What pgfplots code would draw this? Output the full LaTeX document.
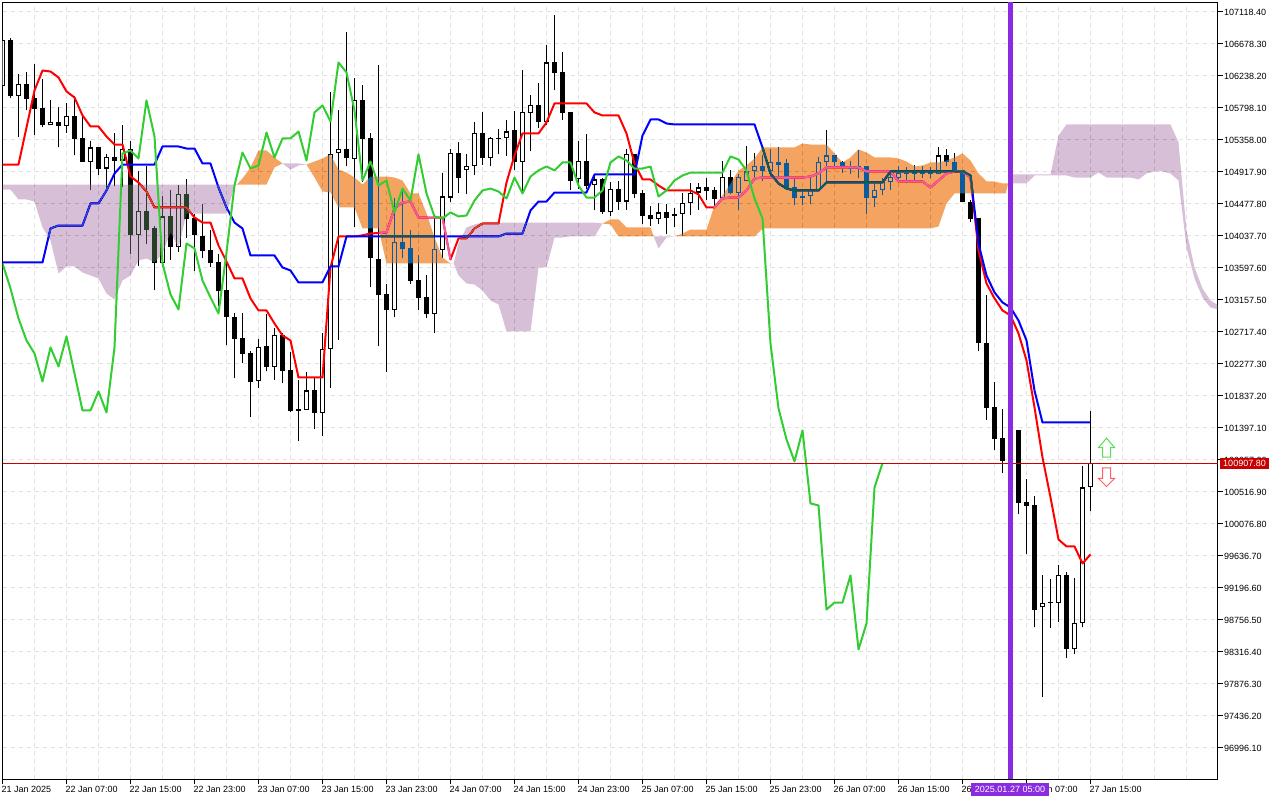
\documentclass[border=0pt]{standalone}
\usepackage{fontspec}
\setmainfont{Liberation Sans}
\usepackage{pgfplots}
\usepackage{pgfplotstable}
\pgfplotsset{compat=1.18}
\definecolor{gridc}{HTML}{E2E2E2}
\definecolor{kumoO}{HTML}{0B5B9F}% shown as F4A460 on white under difference blending
\definecolor{kumoT}{HTML}{274027}% shown as D8BFD8 on white under difference blending
\definecolor{chik}{HTML}{32CD32}
\definecolor{vline}{HTML}{8A2BE2}
\definecolor{pricec}{HTML}{C80000}
\definecolor{pinkl}{HTML}{F45B9F}
\definecolor{teall}{HTML}{0B5B60}
\definecolor{arrowg}{HTML}{55DD55}
\definecolor{arrowr}{HTML}{FF6060}
% bar index, open, high, low, close
\pgfplotstableread{
k o h l c
0 106087 106733 106087 106733
1 106733 106747 105923 105950
2 105950 106252 105386 106115
3 106115 106293 105757 105909
4 105923 106390 105413 105771
5 105785 106184 105524 105551
6 105551 105895 105551 105592
7 105592 105799 105248 105537
8 105537 105854 105454 105675
9 105675 105950 105138 105358
10 105372 105661 105042 105055
11 105055 105331 104657 105248
12 105248 105248 104863 104959
13 104959 105152 104657 105111
14 105111 105441 104712 105069
15 105069 105551 104698 105234
16 105234 105331 103777 104038
17 104038 104918 103612 104368
18 104368 104987 103914 104120
19 104134 104175 103282 103653
20 103653 104574 103598 104299
21 104299 104657 103694 103873
22 103873 104726 103804 104602
23 104602 104808 104010 104258
24 104272 104340 103543 104038
25 104024 104464 103722 103818
26 103832 104107 103598 103653
27 103667 103777 103062 103268
28 103282 103791 102526 102910
29 102910 102965 102072 102608
30 102622 102965 102278 102402
31 102416 102443 101535 102016
32 102030 102608 101934 102498
33 102512 102952 102168 102223
34 102223 102759 102044 102663
35 102663 102690 102003 102168
36 102182 102430 101604 101618
37 101645 102044 101205 101618
38 101631 102154 101631 101906
39 101906 102072 101370 101590
40 101590 102690 101274 102471
41 102471 106005 101934 105152
42 105166 105757 102594 105221
43 105234 106843 104987 105097
44 105083 106197 104148 105895
45 105895 106101 104767 105358
46 105372 105454 103323 103722
47 103708 106376 102512 103213
48 103227 103364 102154 103007
49 103007 104547 102910 103942
50 103942 104684 103722 103846
51 103860 104107 103364 103405
52 103419 103763 103007 103172
53 103185 103488 102897 102952
54 102952 104272 102691 103846
55 103832 104904 103735 104574
56 104560 105234 104492 105179
57 105179 105317 104616 104822
58 104945 105152 104602 105000
59 104987 105592 104863 105454
60 105454 105730 105014 105097
61 105097 105386 104987 105372
62 105358 105496 105152 105372
63 105372 105620 105125 105468
64 105482 105744 104932 105055
65 105055 106307 104616 105730
66 105716 105964 105193 105826
67 105826 106129 105510 105592
68 105592 106651 105551 106417
69 106417 107077 106032 106266
70 106280 106568 105620 105716
71 105730 105730 104670 104781
72 104808 105344 104684 105069
73 105069 105427 104684 104712
74 104726 104890 104382 104808
75 104808 104822 104340 104354
76 104354 104767 104299 104684
77 104684 104794 104395 104505
78 104505 105221 104395 105152
79 105152 105152 104547 104602
80 104616 104657 104189 104299
81 104313 104437 104175 104258
82 104258 104478 104189 104354
83 104354 104464 104065 104285
84 104299 104409 104148 104327
85 104327 104629 104024 104478
86 104478 104753 104313 104616
87 104629 104753 104395 104698
88 104698 104822 104519 104643
89 104657 104698 104423 104533
90 104547 105069 104547 104849
91 104849 104945 104602 104616
92 104616 104890 104395 104849
93 104781 105262 104781 104918
94 104918 105179 104781 105000
95 105000 105138 104794 104918
96 104918 105234 104822 105055
97 105055 105248 104808 105014
98 105028 105083 104657 104684
99 104698 104808 104451 104547
100 104574 104657 104451 104547
101 104574 104822 104464 104657
102 104657 105111 104657 105042
103 105042 105482 104767 105138
104 105138 105138 104973 105042
105 105055 105069 104904 104987
106 104959 105069 104890 104987
107 104959 105207 104822 105000
108 105000 105000 104340 104560
109 104560 104794 104423 104670
110 104670 104835 104588 104767
111 104767 104904 104670 104849
112 104835 105000 104794 104904
113 104904 104973 104753 104877
114 104890 105014 104781 104918
115 104918 105000 104835 104877
116 104918 104973 104822 104877
117 104890 105248 104890 105138
118 105138 105234 104987 105055
119 105055 105179 104932 104932
120 104932 104932 104492 104492
121 104505 104519 104230 104258
122 104272 104272 102443 102553
123 102553 103213 101494 101659
124 101673 102016 101081 101233
125 101247 101645 100765 100930
126 100930 101425 100875 101356
127 101356 101356 100201 100353
128 100366 100683 99651 100311
129 100325 100449 98647 98894
130 98922 99363 97684 98990
131 98977 99307 98633 98990
132 98990 99500 98729 99363
133 99363 99404 98221 98344
134 98344 99321 98276 98702
135 98702 100861 98647 100572
136 100572 101618 100243 100907.8
}\candles
\begin{document}
\begin{tikzpicture}
\path[use as bounding box, fill=white] (0pt,0pt) rectangle (1280pt,800pt);
\begin{axis}[
  at={(2.5pt,20.5pt)}, anchor=south west,
  scale only axis, width=1215pt, height=777pt,
  xmin=0, xmax=151.875, ymin=96556.1, ymax=107242.2,
  axis line style={line width=1pt},
  tick style={black, line width=1pt},
  tick align=outside, major tick length=5pt, minor tick length=0pt,
  ytick pos=right, xtick pos=bottom, yticklabel pos=right,
  grid=both,
  major grid style={gridc, line width=1pt, dash pattern=on 4pt off 4pt},
  minor grid style={gridc, line width=1pt, dash pattern=on 4pt off 4pt},
  xtick={0,8,...,136},
  minor xtick={4,12,...,132,140,144,148},
  xticklabels={21 Jan 2025,22 Jan 07:00,22 Jan 15:00,22 Jan 23:00,23 Jan 07:00,23 Jan 15:00,23 Jan 23:00,24 Jan 07:00,24 Jan 15:00,24 Jan 23:00,25 Jan 07:00,25 Jan 15:00,25 Jan 23:00,26 Jan 07:00,26 Jan 15:00,26 Jan 23:00,27 Jan 07:00,27 Jan 15:00},
  ytick={107118.4,106678.3,106238.2,105798.1,105358,104917.9,104477.8,104037.7,103597.6,103157.5,102717.4,102277.3,101837.2,101397.1,100957,100516.9,100076.8,99636.7,99196.6,98756.5,98316.4,97876.3,97436.2,96996.1},
  yticklabels={107118.40,106678.30,106238.20,105798.10,105358.00,104917.90,104477.80,104037.70,103597.60,103157.50,102717.40,102277.30,101837.20,101397.10,100957.00,100516.90,100076.80,99636.70,99196.60,98756.50,98316.40,97876.30,97436.20,96996.10},
  tick label style={font=\fontsize{9pt}{10pt}\selectfont, black},
  yticklabel style={anchor=west, inner sep=0pt, xshift=1.5pt, yshift=-0.7pt},
  xticklabel style={anchor=north west, inner sep=0pt, xshift=-1pt, yshift=-2pt},
  axis background/.style={fill=white},
]
% candle wicks
\addplot[draw=none, mark=none, forget plot,
  error bars/.cd, y dir=plus, y explicit, error mark=none,
  error bar style={black, line width=1pt}]
  table[x=k, y=l, y error plus expr={\thisrow{h}-\thisrow{l}}] {\candles};
% candle bodies
\addplot[draw=none, mark=none, forget plot,
  error bars/.cd, y dir=plus, y explicit, error mark=none,
  error bar style={black, line width=5pt}]
  table[x=k, y expr={min(\thisrow{o},\thisrow{c})}, y error plus expr={max(abs(\thisrow{c}-\thisrow{o}),14)}] {\candles};
% white inside of rising candles
\addplot[draw=none, mark=none, forget plot,
  error bars/.cd, y dir=plus, y explicit, error mark=none,
  error bar style={white, line width=3pt}]
  table[x=k, y expr={\thisrow{o}+14}, y error plus expr={ifthenelse(\thisrow{c}>\thisrow{o},max(\thisrow{c}-\thisrow{o}-28,0),0)}] {\candles};
% Tenkan
\addplot[red, line width=2pt, line join=round] coordinates {
(0,105014)(2,105014)(4,106032)(5,106307)(6,106293)(7,106211)(8,106019)(9,105936)(10,105689)(11,105537)(12,105537)(13,105399)(14,105289)(15,105289)(16,104849)(17,104767)(18,104643)(19,104423)(23,104423)(24,104285)(25,104216)(26,104216)(27,103900)(28,103680)(29,103447)(30,103447)(31,103172)(32,103007)(33,103007)(34,102828)(35,102663)(36,102594)(37,102085)(40,102085)(41,103598)(42,104024)(44,104024)(45,104040)(46,104065)(48,104079)(49,104409)(50,104492)(51,104505)(52,104285)(55,104285)(56,103708)(57,103997)(58,103997)(59,104134)(60,104203)(62,104203)(63,104767)(64,105138)(65,105441)(67,105441)(68,105592)(69,105854)(73,105854)(74,105730)(75,105689)(77,105689)(78,105441)(79,105028)(80,104808)(81,104808)(82,104726)(83,104657)(86,104657)(87,104602)(88,104423)(89,104423)(90,104547)(91,104560)(92,104560)(93,104657)(94,104822)(95,104835)(100,104835)(101,104849)(102,104890)(103,104973)(107,104973)(108,104918)(111,104918)(112,104781)(115,104781)(116,104698)(117,104794)(118,104890)(119,104918)(120,104918)(121,104835)(122,103832)(123,103378)(124,103172)(125,103007)(126,102938)(127,102691)(128,102319)(129,101673)(130,100985)(131,100435)(132,99857)(133,99761)(134,99761)(135,99528)(136,99651)};
% Kijun
\addplot[blue, line width=2pt, line join=round] coordinates {
(0,103667)(5,103667)(6,104134)(7,104175)(10,104175)(11,104478)(12,104478)(13,104657)(14,104890)(15,105014)(19,105014)(20,105262)(22,105262)(23,105234)(24,105234)(25,105028)(26,105028)(27,104698)(28,104423)(29,104216)(30,104134)(31,103763)(34,103763)(35,103598)(36,103557)(37,103392)(40,103392)(41,103612)(42,103612)(43,104024)(62,104024)(63,104065)(65,104065)(66,104382)(67,104505)(68,104505)(69,104629)(73,104629)(74,104877)(79,104877)(80,105413)(81,105633)(82,105633)(83,105578)(84,105565)(94,105565)(95,105248)(96,104890)(97,104753)(98,104684)(99,104657)(102,104657)(103,104767)(110,104767)(111,104918)(120,104918)(121,104863)(122,103928)(123,103488)(124,103254)(125,103117)(126,103048)(127,102869)(128,102594)(129,101906)(130,101466)(136,101466)};
% cloud, in difference blending
\addplot[fill=kumoT, draw=none, blend mode=difference] coordinates {
(0,104739)(29.3,104739)(29,104712)(28,104340)(23,104340)(22,103873)(21,104079)(20,103791)(19,103667)(18,103722)(17,103694)(16,103488)(15,103419)(14,103158)(13,103240)(12,103447)(11,103488)(10,103529)(9,103612)(8,103612)(7,103516)(6,103969)(5,104148)(4,104505)(3,104533)(2,104533)(1,104670)(0,104670)} --cycle;
\addplot[fill=kumoO, draw=none, blend mode=difference] coordinates {
(29.3,104739)(30,104822)(31,104973)(32,105207)(33,105207)(34,105111)(35,105028)(34,104973)(33,104739)} --cycle;
\addplot[fill=kumoT, draw=none, blend mode=difference] coordinates {
(35,105028)(37,105028)(38,105014)(37,105000)(36,104945)} --cycle;
\addplot[fill=kumoO, draw=none, blend mode=difference] coordinates {
(38,105014)(39,105055)(40,105097)(41,105152)(42,104945)(43,104904)(44,104835)(45,104739)(46,104849)(48,104849)(49,104835)(50,104794)(51,104616)(52,104616)(53,104340)(54,104010)(55,103735)(56,103653)(56.4,103653)(48,103653)(47,104134)(45,104134)(44,104423)(42,104423)(41,104629)(40,104643)(39,104835)} --cycle;
\addplot[fill=kumoT, draw=none, blend mode=difference] coordinates {
(56.4,103653)(57,103928)(58,104148)(59,104189)(60,104216)(74,104216)(75,104203)(74,104024)(71,104024)(70,104010)(69,104010)(68,103598)(67,103598)(66,102718)(63,102718)(62,103089)(61,103144)(60,103282)(59,103364)(58,103378)(57,103488)} --cycle;
\addplot[fill=kumoO, draw=none, blend mode=difference] coordinates {
(75,104203)(76,104258)(77,104258)(78,104148)(81,104148)(81.4,104024)(77,104024)(76,104189)} --cycle;
\addplot[fill=kumoT, draw=none, blend mode=difference] coordinates {
(81.4,104024)(84,104024)(83,104010)(82,103860)} --cycle;
\addplot[fill=kumoO, draw=none, blend mode=difference] coordinates {
(84,104024)(85,104065)(86,104120)(88,104120)(89,104451)(90,104588)(91,104753)(92,104932)(93,105000)(94,105097)(95,105248)(99,105248)(100,105303)(101,105289)(103,105289)(104,105166)(105,105042)(106,105111)(107,105221)(108,105179)(109,105111)(111,105111)(112,105097)(113,105055)(114,104987)(115,105000)(116,105042)(117,105042)(118,105069)(119,105111)(120,105166)(121,105069)(122,104890)(123,104781)(124,104781)(125,104753)(125.7,104753)(125.4,104616)(119,104616)(118,104478)(117,104162)(116,104134)(95,104134)(94,104024)(85,104024)} --cycle;
\addplot[fill=kumoT, draw=none, blend mode=difference] coordinates {
(125.9,104753)(126,104877)(131,104877)(132,105413)(133,105565)(146,105565)(147,105317)(148,104107)(149,103598)(150,103309)(151,103144)(152,103075)(152,103020)(151,103048)(150,103185)(149,103447)(148,103873)(147,104794)(146,104890)(145,104918)(144,104918)(143,104890)(142,104808)(141,104835)(138,104835)(137,104904)(136,104835)(134,104835)(133,104863)(129,104863)(128,104753)(126,104753)} --cycle;
% the parts of Tenkan and Kijun that run inside the orange cloud
\addplot[pinkl, line width=2pt, line join=round] coordinates {
(47.14,104079)(48,104079)(49,104409)(50,104492)(51,104505)(52,104285)(55,104285)(56,103708)};
\addplot[pinkl, line width=2pt, line join=round] coordinates {
(88.92,104423)(89,104423)(90,104547)(91,104560)(92,104560)(93,104657)(94,104822)(95,104835)(100,104835)(101,104849)(102,104890)(103,104973)(107,104973)(108,104918)(111,104918)(112,104781)(115,104781)(116,104698)(117,104794)(118,104890)(119,104918)(120,104918)(121,104835)(121.22,104616)};
\addplot[teall, line width=2pt, line join=round] coordinates {
(47.23,104024)(53.96,104024)};
\addplot[teall, line width=2pt, line join=round] coordinates {
(95,105248)(96,104890)(97,104753)(98,104684)(99,104657)(102,104657)(103,104767)(110,104767)(111,104918)(120,104918)(121,104863)(121.26,104616)};
% Chikou
\addplot[chik, line width=2pt, line join=round] coordinates {
(0,103653)(1,103309)(2,102897)(3,102594)(4,102416)(5,102030)(6,102498)(7,102237)(8,102649)(9,102141)(10,101631)(11,101631)(12,101893)(13,101604)(14,102498)(15,105166)(16,105207)(17,105097)(18,105895)(19,105399)(20,103653)(21,103227)(22,103020)(23,103928)(24,103860)(25,103419)(26,103185)(27,102965)(28,103804)(29,104726)(30,105179)(31,104959)(32,105000)(33,105454)(34,105111)(35,105372)(36,105372)(37,105468)(38,105069)(39,105730)(40,105826)(41,105606)(42,106417)(43,106280)(44,105757)(45,104794)(46,105055)(47,104726)(48,104794)(49,104354)(50,104684)(51,104519)(52,105152)(53,104616)(54,104299)(55,104272)(56,104354)(57,104299)(58,104313)(59,104519)(60,104657)(61,104684)(62,104643)(63,104547)(64,104835)(65,104616)(66,104849)(67,104932)(68,104987)(69,104932)(70,105042)(71,105042)(72,104726)(73,104560)(74,104560)(75,104657)(76,105042)(77,105125)(78,105069)(79,104959)(80,104959)(81,104987)(82,104574)(83,104657)(84,104794)(85,104863)(86,104904)(90,104904)(91,105125)(92,105083)(93,104932)(94,104547)(95,104272)(96,102553)(97,101659)(98,101233)(99,100930)(100,101356)(101,100353)(102,100325)(103,98894)(104,98990)(105,98990)(106,99363)(107,98344)(108,98702)(109,100572)(110,100907.8)};
% current price line
\addplot[pricec, line width=1pt] coordinates {(0,100907.8)(151.875,100907.8)};
% vertical marker at 2025.01.27 05:00
\addplot[vline, line width=5pt] coordinates {(126,96556.1)(126,107242.2)};
% up and down arrows
\addplot[draw=arrowg, fill=white, line width=1pt] coordinates {
(138,101250)(139,101122)(138.5,101122)(138.5,100989)(137.5,100989)(137.5,101122)(137,101122)} --cycle;
\addplot[draw=arrowr, fill=white, line width=1pt] coordinates {
(137.5,100843)(138.5,100843)(138.5,100696)(139,100696)(138,100586)(137,100696)(137.5,100696)} --cycle;
\end{axis}
\fill[pricec] (1220pt,331.3pt) rectangle (1269pt,342.3pt);
\node[white, font=\fontsize{9pt}{10pt}\selectfont, inner sep=0pt] at (1244.5pt,336.8pt) {100907.80};
\fill[vline] (971pt,4pt) rectangle (1049pt,16.5pt);
\node[white, font=\fontsize{9pt}{10pt}\selectfont, inner sep=0pt] at (1010pt,10.2pt) {2025.01.27 05:00};
\end{tikzpicture}
\end{document}
